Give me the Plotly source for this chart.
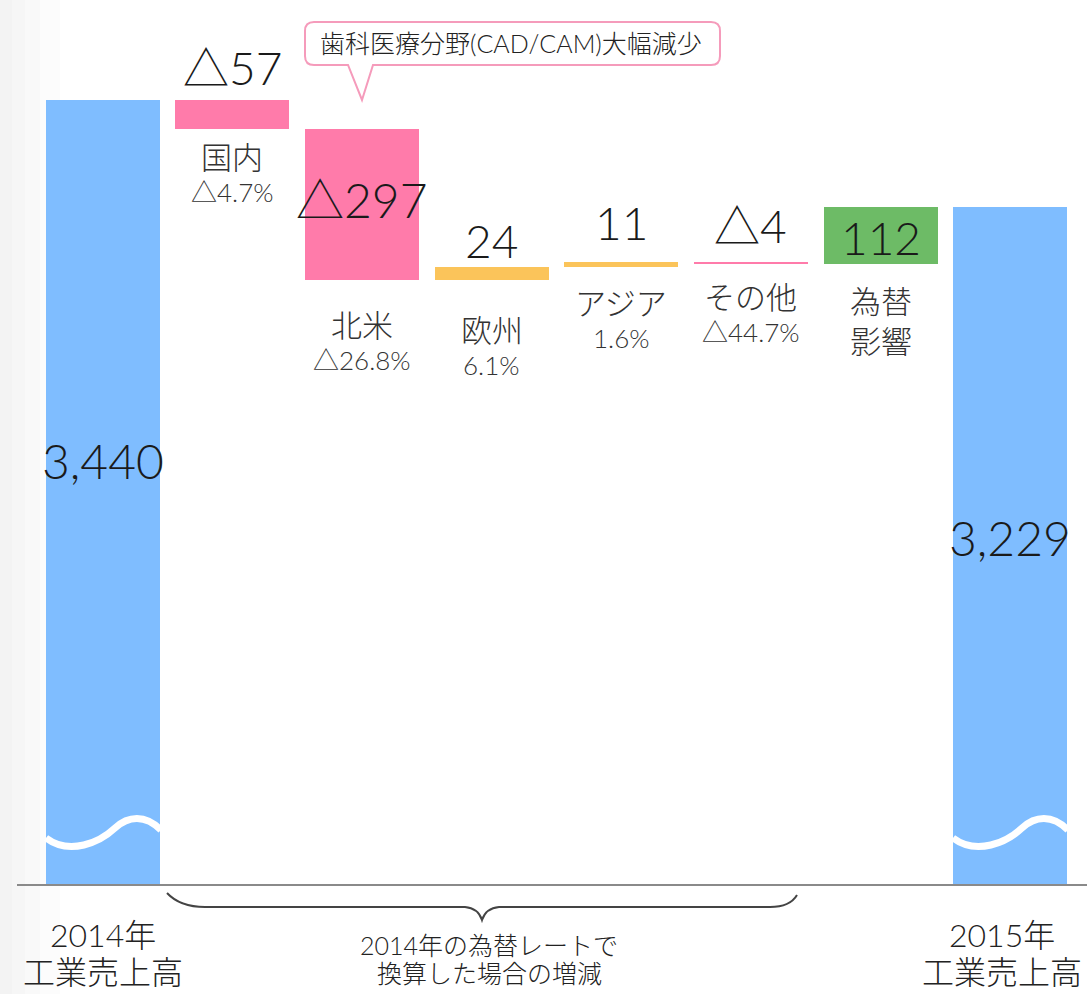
import plotly.graph_objects as go

# ---------------- data ----------------
total_years = ["2014年", "2015年"]
total_caption = "工業売上高"
start_total = 3440
end_total = 3229
change_names = ["国内", "北米", "欧州", "アジア", "その他", "為替<br>影響"]
change_values = [-57, -297, 24, 11, -4, 112]
change_rates = ["△4.7%", "△26.8%", "6.1%", "1.6%", "△44.7%", ""]
change_colors = ["#FF7BAA", "#FF7BAA", "#FBC45A", "#FBC45A", "#FF7BAA", "#6DBB66"]
label_inside = [False, True, False, False, False, True]
total_color = "#7FBDFF"
callout_text = "歯科医療分野(CAD/CAM)大幅減少"
brace_text = ["2014年の為替レートで", "換算した場合の増減"]

# label fine-tuning (pixels)
value_shift = [3, 5, -3, 10, 7, -2]
name_shift = [5, -12, -17, -3, 0, -4]
total_xshift = [0, -8]

FONT = "Lato, Liberation Sans, Noto Sans CJK JP, sans-serif"
W, H = 1087, 994
ML, MR, MT, MB = 38, 12, 0, 109
PW, PH = W - ML - MR, H - MT - MB


def fmt(v):
    return ("△" + str(abs(v))) if v < 0 else str(v)


def px(x, y):
    """pixel -> paper coords (for decorations)"""
    return (x - ML) / PW, (H - MB - y) / PH


def path(cmds):
    out = []
    for c in cmds:
        if isinstance(c, str):
            out.append(c)
        else:
            X, Y = px(*c)
            out.append(f"{X:.5f},{Y:.5f}")
    return " ".join(out)


def f(size, color="#1a1a1a"):
    return dict(size=size, color=color, family=FONT, weight=300)


# waterfall geometry from data
xs, bases, heights, colors = [0], [0], [start_total], [total_color]
running = start_total
for i, v in enumerate(change_values):
    xs.append(i + 1)
    bases.append(min(running, running + v))
    heights.append(abs(v))
    colors.append(change_colors[i])
    running += v
xs.append(len(change_values) + 1)
bases.append(0)
heights.append(end_total)
colors.append(total_color)

fig = go.Figure()
fig.add_trace(go.Bar(
    x=xs, y=heights, base=bases, width=0.88,
    marker=dict(color=colors, line=dict(width=0)),
    hoverinfo="skip", showlegend=False,
))

ann = []
running = start_total
for i, v in enumerate(change_values):
    lo, hi = min(running, running + v), max(running, running + v)
    running += v
    x = i + 1
    big = 48 if abs(v) > 100 and v < 0 else 46
    if label_inside[i]:
        ann.append(dict(x=x, y=(lo + hi) / 2, xref="x", yref="y", text=fmt(v),
                        showarrow=False, yanchor="middle", yshift=value_shift[i], font=f(big)))
    else:
        ann.append(dict(x=x, y=hi, xref="x", yref="y", text=fmt(v),
                        showarrow=False, yanchor="bottom", yshift=value_shift[i], font=f(big)))
    ann.append(dict(x=x, y=lo, xref="x", yref="y", text=change_names[i],
                    showarrow=False, yanchor="top", yshift=-12 + name_shift[i],
                    font=f(31, "#333333")))
    if change_rates[i]:
        ann.append(dict(x=x, y=lo, xref="x", yref="y", text=change_rates[i],
                        showarrow=False, yanchor="top", yshift=-50 + name_shift[i],
                        font=f(26, "#333333")))

# totals
for x, v, py in [(0, start_total, 460), (len(change_values) + 1, end_total, 537)]:
    ann.append(dict(x=x, y=px(0, py)[1], xref="x", yref="paper", text=f"{v:,}",
                    showarrow=False, yanchor="middle", font=f(48)))
for k, (x, yr) in enumerate([(0, total_years[0]), (len(change_values) + 1, total_years[1])]):
    ann.append(dict(x=x, y=px(0, 935)[1], xref="x", yref="paper", text=yr,
                    showarrow=False, yanchor="middle", xshift=total_xshift[k],
                    font=f(32, "#222222")))
    ann.append(dict(x=x, y=px(0, 971)[1], xref="x", yref="paper", text=total_caption,
                    showarrow=False, yanchor="middle", xshift=total_xshift[k],
                    font=f(32, "#222222")))

# brace text
for t, py in zip(brace_text, [945, 973]):
    X, Y = px(489, py)
    ann.append(dict(x=X, y=Y, xref="paper", yref="paper", text=t, showarrow=False,
                    yanchor="middle", font=f(25, "#222222")))

# callout text
X, Y = px(511, 43)
ann.append(dict(x=X, y=Y, xref="paper", yref="paper", text=callout_text, showarrow=False,
                yanchor="middle", font=f(25, "#222222")))

shapes = []
# faint background shading at left
for wdt in [60, 40, 25, 12]:
    X0, Y0 = px(0, 994)
    X1, Y1 = px(wdt, 0)
    shapes.append(dict(type="rect", xref="paper", yref="paper", x0=X0, y0=Y0, x1=X1, y1=Y1,
                       fillcolor="rgba(0,0,0,0.012)", line=dict(width=0), layer="below"))

# wave breaks on total bars
for dx in [0, 907]:
    shapes.append(dict(type="path", xref="paper", yref="paper",
                       path=path(["M", (46 + dx, 838), "C", (70 + dx, 856), (100 + dx, 842), (115 + dx, 828),
                                  "C", (128 + dx, 816), (145 + dx, 814), (161 + dx, 830)]),
                       line=dict(color="white", width=7), fillcolor="rgba(0,0,0,0)"))

# baseline
X0, Y0 = px(17, 885)
X1, _ = px(1087, 885)
shapes.append(dict(type="line", xref="paper", yref="paper", x0=X0, y0=Y0, x1=X1, y1=Y0,
                   line=dict(color="#8a8a8a", width=2)))

# brace
shapes.append(dict(type="path", xref="paper", yref="paper",
                   path=path(["M", (167, 893), "Q", (180, 907), (205, 907), "L", (465, 907),
                              "Q", (478, 908), (482, 920), "Q", (486, 908), (499, 907),
                              "L", (770, 907), "Q", (790, 907), (797, 895)]),
                   line=dict(color="#444444", width=2), fillcolor="rgba(0,0,0,0)"))

# callout bubble
r = 9
x0, x1, y0, y1 = 305, 720, 22, 65
shapes.append(dict(type="path", xref="paper", yref="paper",
                   path=path(["M", (x0 + r, y0), "L", (x1 - r, y0), "Q", (x1, y0), (x1, y0 + r),
                              "L", (x1, y1 - r), "Q", (x1, y1), (x1 - r, y1),
                              "L", (373, y1), "L", (362, 100), "L", (348, y1),
                              "L", (x0 + r, y1), "Q", (x0, y1), (x0, y1 - r),
                              "L", (x0, y0 + r), "Q", (x0, y0), (x0 + r, y0), "Z"]),
                   line=dict(color="#F59BBB", width=2), fillcolor="white"))

# y range so that the scale matches the picture
y_px_per_unit = 107 / (start_total - end_total)
y_top = start_total + 100 / y_px_per_unit
y_bot = start_total - (PH - 100) / y_px_per_unit

fig.update_layout(
    width=W, height=H,
    margin=dict(l=ML, r=MR, t=MT, b=MB),
    paper_bgcolor="white", plot_bgcolor="rgba(0,0,0,0)",
    xaxis=dict(range=[-0.5, len(xs) - 0.5], visible=False, fixedrange=True),
    yaxis=dict(range=[y_bot, y_top], visible=False, fixedrange=True),
    bargap=0, annotations=ann, shapes=shapes, showlegend=False,
    font=dict(family=FONT),
)

fig.write_html("out.html", config={"displayModeBar": False},
               post_script="document.body.style.margin='0';document.body.style.overflow='hidden';")
